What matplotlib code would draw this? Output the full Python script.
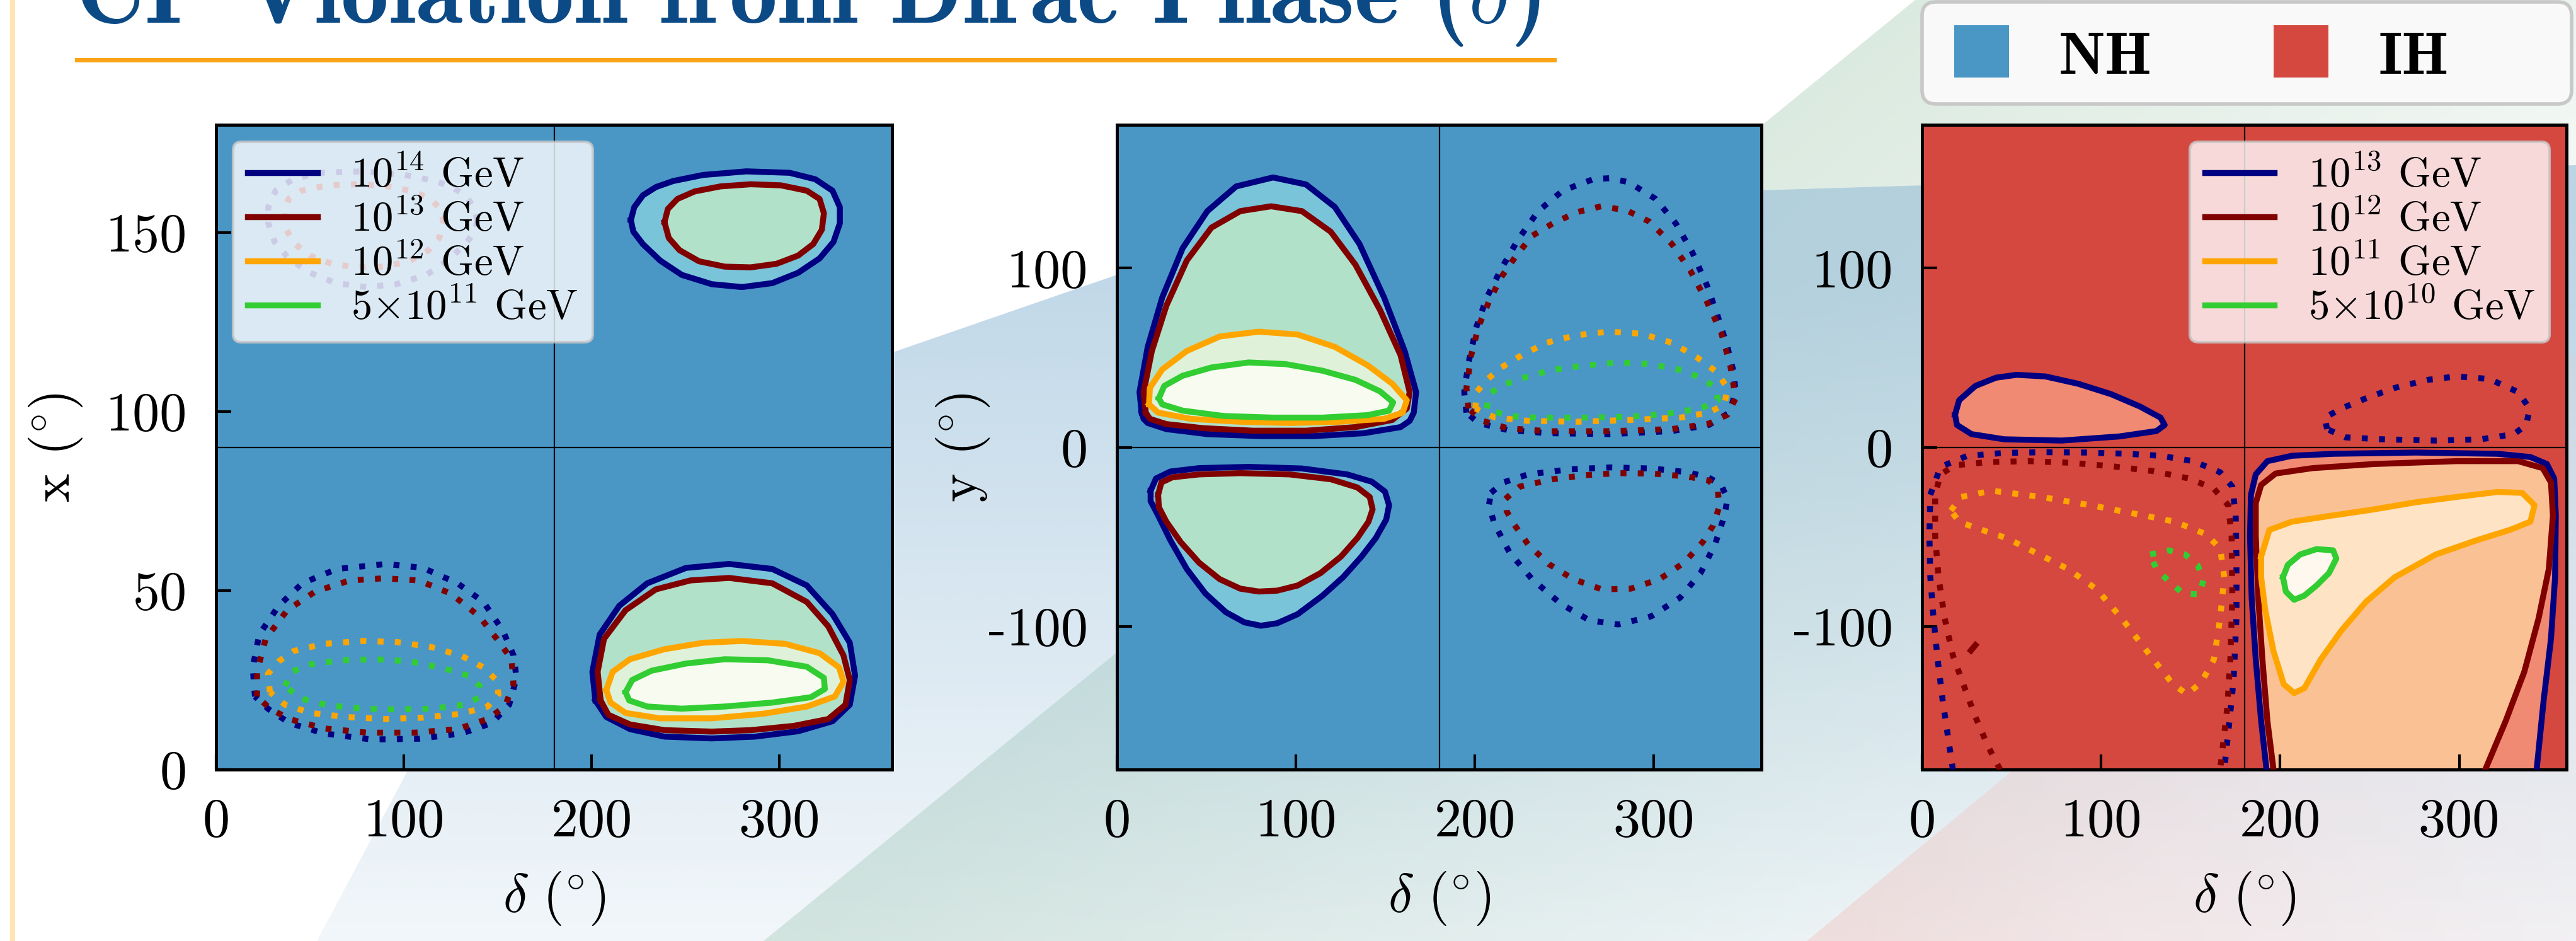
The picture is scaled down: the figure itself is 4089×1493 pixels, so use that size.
import numpy as np
import matplotlib
matplotlib.use('Agg')
import matplotlib.pyplot as plt
import matplotlib.colors as mcolors
from matplotlib.patches import Polygon, Rectangle, FancyBboxPatch
from matplotlib.lines import Line2D

W, H = 4089, 1493
plt.rcParams['mathtext.fontset'] = 'cm'
plt.rcParams['font.family'] = 'serif'
plt.rcParams['font.serif'] = ['cmr10']
plt.rcParams['axes.formatter.use_mathtext'] = True

# ---- data: (delta, angle) contour vertices ----
# panel 1 : x vs delta (NH)
p1_navy_lr = [(202.0,19.3),(200.4,27.3),(204.3,37.7),(214.7,45.7),(229.6,52.0),(250.3,56.3),(273.2,57.4),(296.2,56.0),(314.6,51.4),(328.3,43.4),(337.5,35.4),(340.3,26.2),(337.5,18.1),(328.3,13.5),(310.0,10.7),(287.0,9.2),(264.0,8.7),(238.8,9.2),(220.4,11.3),(207.8,14.7)]
p1_maroon_lr = [(204.8,19.3),(203.2,27.3),(206.6,36.5),(218.1,44.5),(234.2,50.3),(252.6,52.8),(273.2,53.5),(296.2,52.0),(314.6,46.8),(326.0,40.0),(334.1,31.9),(337.5,25.0),(335.2,18.1),(326.0,14.1),(307.7,12.2),(284.7,11.0),(264.0,10.6),(238.8,11.0),(220.4,12.6),(208.9,15.3)]
p1_orange_lr = [(207.8,22.2),(211.2,27.3),(220.4,30.8),(238.8,33.6),(259.4,35.4),(280.1,35.9),(303.1,35.1),(321.4,32.5),(331.8,28.5),(334.1,24.5),(329.5,20.4),(314.6,17.6),(291.6,15.6),(264.0,14.3),(236.5,14.3),(218.1,15.8),(210.1,18.7)]
p1_green_lr = [(218.1,21.6),(221.6,25.0),(231.9,27.6),(250.3,29.6),(270.9,30.8),(293.9,30.5),(314.6,28.7),(323.7,25.6),(324.2,22.5),(316.8,20.2),(296.2,18.7),(270.9,17.6),(248.0,17.0),(229.6,17.6),(220.0,19.3)]
p1_navy_ur = [(220.9,153.4),(222.7,157.0),(227.3,160.3),(234.2,162.6),(243.4,164.3),(259.4,166.0),(282.4,167.0),(305.4,166.6),(319.1,164.8),(328.3,161.6),(332.2,157.0),(332.2,152.5),(328.8,147.3),(321.4,142.7),(310.0,138.7),(296.2,135.8),(280.1,134.7),(264.0,135.5),(248.0,138.1),(236.5,142.1),(227.3,146.7),(222.2,150.2)]
p1_maroon_ur = [(238.8,152.8),(240.6,156.5),(245.7,159.3),(254.9,161.4),(268.6,162.8),(284.7,163.4),(300.8,163.1),(314.6,161.6),(321.4,159.3),(323.7,155.3),(322.6,150.7),(318.0,146.7),(310.0,143.5),(298.5,141.2),(284.7,140.2),(270.9,140.4),(257.2,141.9),(246.8,145.0),(241.1,148.4)]
p1_navy_ll = [(20.7,20.4),(19.5,28.5),(23.0,37.7),(33.3,45.7),(45.9,52.0),(64.3,56.0),(90.7,57.4),(110.2,56.3),(128.6,52.0),(142.4,46.8),(152.7,38.8),(158.4,31.9),(160.0,25.6),(156.1,18.1),(146.9,13.0),(130.9,10.1),(107.9,8.6),(82.7,8.4),(57.4,10.1),(39.0,13.0),(27.6,17.0)]
p1_maroon_ll = [(21.8,20.4),(21.8,27.3),(26.4,36.5),(37.9,44.5),(52.8,49.7),(71.2,52.8),(89.5,53.4),(107.9,52.8),(125.1,49.1),(140.1,42.8),(150.4,35.9),(157.3,30.8),(158.4,23.9),(153.8,17.6),(144.6,14.1),(128.6,11.3),(105.6,10.3),(80.4,10.3),(57.4,11.5),(39.0,14.1),(28.7,17.0)]
p1_orange_ll = [(28.7,21.6),(27.6,26.7),(33.3,30.2),(41.3,33.1),(57.4,35.1),(78.1,35.9),(96.4,35.6),(114.8,34.2),(130.9,31.7),(142.4,28.5),(149.2,25.0),(150.4,21.0),(144.6,17.6),(130.9,15.6),(110.2,14.5),(89.5,14.1),(68.9,14.7),(50.5,15.8),(36.7,18.1)]
p1_green_ll = [(36.7,23.3),(40.2,27.3),(50.5,29.4),(66.6,30.5),(85.0,30.8),(103.3,30.2),(121.7,28.2),(134.3,26.2),(140.5,23.3),(140.5,20.2),(132.0,18.1),(114.8,17.0),(96.4,16.8),(78.1,17.0),(59.7,17.9),(44.8,19.9)]
p1_navy_ul = [(139.1,153.4),(137.3,157.0),(132.7,160.3),(125.8,162.6),(116.6,164.3),(100.6,166.0),(77.6,167.0),(54.6,166.6),(40.9,164.8),(31.7,161.6),(27.8,157.0),(27.8,152.5),(31.2,147.3),(38.6,142.7),(50.0,138.7),(63.8,135.8),(79.9,134.7),(96.0,135.5),(112.0,138.1),(123.5,142.1),(132.7,146.7),(137.8,150.2)]
p1_maroon_ul = [(121.2,152.8),(119.4,156.5),(114.3,159.3),(105.1,161.4),(91.4,162.8),(75.3,163.4),(59.2,163.1),(45.4,161.6),(38.6,159.3),(36.3,155.3),(37.4,150.7),(42.0,146.7),(50.0,143.5),(61.5,141.2),(75.3,140.2),(89.1,140.4),(102.8,141.9),(113.2,145.0),(118.9,148.4)]

# panel 2 : y vs delta (NH)
p2_navy_ul = [(13.8,19.3),(12.6,30.8),(17.2,56.0),(25.3,83.6),(36.7,111.1),(50.5,131.8),(66.6,145.6),(87.2,150.6),(105.6,146.7),(121.7,134.1),(135.5,113.4),(149.2,83.6),(160.7,53.7),(167.1,30.8),(165.8,19.3),(163.5,14.7),(158.4,11.2),(137.8,7.8),(110.2,6.2),(80.4,6.2),(50.5,7.3),(27.6,10.1),(17.2,13.5),(14.9,15.8)]
p2_maroon_ul = [(16.1,19.3),(14.9,30.8),(19.5,53.7),(27.6,79.0),(39.0,104.2),(52.8,122.6),(68.9,131.8),(86.1,134.5),(103.3,131.8),(119.4,120.3),(133.2,101.9),(146.9,76.7),(158.4,51.4),(163.5,30.8),(161.9,21.6),(153.8,15.2),(133.2,11.2),(105.6,9.2),(75.8,9.2),(48.2,10.6),(27.6,12.9),(18.4,15.8)]
p2_orange_ul = [(17.9,23.9),(18.4,33.1),(25.3,43.4),(39.0,53.7),(57.4,61.8),(79.2,64.5),(101.0,62.9),(121.7,56.0),(140.1,45.7),(153.8,35.4),(161.9,26.2),(159.6,19.3),(149.2,15.8),(124.0,14.2),(96.4,13.5),(68.9,14.2),(41.3,15.8),(23.0,19.3)]
p2_green_ul = [(23.4,27.3),(26.4,34.2),(36.7,39.9),(52.8,44.5),(73.5,47.3),(94.1,46.4),(114.8,42.7),(133.2,37.6),(146.9,31.2),(154.3,25.0),(152.0,20.4),(140.1,17.9),(114.8,16.5),(87.2,16.5),(59.7,17.4),(36.7,20.4),(25.3,23.9)]
p2_navy_ll = [(18.8,-24.3),(21.8,-17.5),(29.8,-13.6),(45.9,-11.7),(73.5,-11.0),(103.3,-11.9),(128.6,-15.2),(142.4,-19.3),(149.7,-24.8),(152.0,-32.4),(150.4,-40.4),(144.6,-50.7),(136.6,-61.1),(126.3,-72.6),(114.8,-82.9),(101.0,-93.2),(89.5,-98.3),(80.4,-99.7),(71.2,-97.8),(60.8,-92.1),(49.4,-81.7),(39.0,-68.0),(29.8,-51.9),(23.0,-38.1),(18.8,-30.1)]
p2_maroon_ll = [(23.0,-26.6),(24.8,-19.7),(31.0,-16.8),(45.9,-15.2),(68.9,-14.5),(96.4,-15.2),(119.4,-17.9),(134.3,-22.5),(141.2,-27.8),(142.8,-34.7),(140.5,-41.6),(134.3,-50.7),(125.1,-61.1),(113.7,-70.3),(101.0,-77.2),(89.5,-80.1),(79.2,-80.6),(68.9,-79.0),(57.4,-73.7),(45.9,-64.5),(35.6,-53.0),(27.6,-41.6),(23.4,-33.5)]
p2_navy_ur = [(195.2,19.3),(194.0,30.8),(196.3,46.8),(200.9,67.5),(206.6,83.6),(214.7,99.6),(223.9,115.7),(235.3,131.8),(249.1,143.3),(266.3,149.7),(275.5,150.2),(285.9,147.9),(300.8,138.7),(312.2,124.9),(321.4,108.8),(329.5,90.5),(335.2,74.4),(341.0,56.0),(344.4,42.2),(345.6,30.8),(342.1,19.3),(330.6,12.4),(310.0,9.0),(275.5,7.3),(241.1,7.8),(218.1,9.6),(202.0,13.5)]
p2_maroon_ur = [(196.3,21.6),(195.2,33.1),(197.9,51.4),(202.0,67.5),(207.8,81.3),(214.7,95.0),(222.7,106.5),(231.9,118.0),(243.4,124.9),(257.2,131.3),(270.5,134.5),(284.7,132.2),(297.3,126.0),(310.0,113.4),(320.3,98.5),(329.5,81.3),(337.5,64.1),(342.6,45.7),(345.6,27.3),(341.0,18.1),(330.6,13.1),(310.0,10.1),(275.5,8.9),(241.1,8.9),(218.1,10.6),(204.3,14.7)]
p2_orange_ur = [(200.2,21.6),(200.9,30.8),(206.6,37.6),(214.7,44.5),(226.2,51.4),(239.9,58.3),(256.0,62.4),(274.4,64.5),(292.7,63.4),(310.0,58.3),(323.7,50.3),(334.8,42.2),(341.0,33.1),(339.4,23.9),(330.6,19.3),(314.6,16.5),(287.0,15.2),(257.2,14.2),(229.6,14.7),(211.2,16.5)]
p2_green_ur = [(206.6,21.6),(207.8,29.6),(215.8,34.9),(229.6,39.5),(243.4,43.2),(261.7,45.7),(280.1,47.3),(298.5,46.4),(316.8,42.7),(328.3,37.6),(334.1,33.1),(335.7,26.2),(326.0,21.6),(307.7,18.8),(287.0,17.0),(261.7,16.5),(234.2,16.5),(218.1,17.4)]
p2_navy_lr = [(208.9,-25.5),(215.8,-19.7),(229.6,-15.2),(252.6,-12.4),(275.5,-11.3),(298.5,-11.9),(319.1,-14.0),(330.6,-17.0),(337.5,-20.9),(341.0,-28.9),(339.4,-38.1),(334.1,-54.2),(326.0,-70.3),(314.6,-84.0),(298.5,-94.4),(280.1,-99.0),(264.0,-96.7),(248.0,-87.5),(231.9,-73.7),(219.3,-58.8),(210.8,-42.7),(207.8,-32.4)]
p2_maroon_lr = [(217.0,-28.9),(225.0,-22.0),(243.4,-17.9),(261.7,-15.6),(280.1,-14.5),(298.5,-14.7),(318.0,-16.3),(330.6,-18.6),(335.7,-24.3),(336.4,-33.5),(332.9,-43.9),(327.2,-53.0),(316.8,-64.5),(303.1,-73.7),(287.0,-79.0),(270.9,-79.4),(254.9,-73.7),(241.1,-65.2),(229.6,-54.2),(221.6,-42.7),(217.7,-35.8)]

# panel 3 : y vs delta (IH)
p3_navy_ul = [(18.4,18.1),(20.7,26.2),(29.8,34.2),(41.3,38.8),(52.8,40.4),(68.9,39.5),(87.2,35.4),(105.6,29.6),(121.7,22.7),(133.2,16.5),(135.5,12.4),(130.9,9.0),(110.2,6.0),(78.1,3.7),(45.9,4.4),(27.6,7.3),(19.5,12.4)]
p3_navy_ur = [(226.2,10.1),(225.0,16.5),(234.2,21.6),(248.0,27.3),(264.0,33.1),(282.4,37.6),(298.5,39.5),(316.8,38.1),(332.9,30.8),(339.4,21.6),(337.5,12.4),(330.6,7.3),(312.2,4.4),(287.0,3.7),(257.2,4.4),(236.5,5.5)]
p3_navy_ll = [(17.2,-180),(14.2,-159.8),(11.5,-141.4),(8.7,-118.5),(6.4,-95.5),(4.6,-72.6),(4.1,-49.6),(4.6,-26.6),(10.3,-11.0),(25.3,-4.8),(45.9,-3.2),(68.9,-2.8),(91.8,-3.0),(114.8,-3.7),(133.2,-4.8),(151.5,-7.8),(166.5,-14.0),(173.3,-22.0),(175.2,-38.1),(175.6,-61.1),(175.6,-95.5),(174.0,-130.0),(171.7,-152.9),(168.8,-180)]
p3_maroon_ll = [(43.6,-180),(36.7,-166.7),(29.8,-150.6),(23.0,-132.3),(17.2,-116.2),(12.6,-95.5),(9.2,-72.6),(7.3,-49.6),(7.3,-26.6),(10.3,-15.2),(18.4,-10.1),(36.7,-8.3),(59.7,-7.8),(82.7,-8.7),(105.6,-10.6),(128.6,-13.3),(149.2,-17.5),(163.0,-23.2),(171.0,-32.4),(172.9,-49.6),(173.3,-84.0),(172.2,-118.5),(170.4,-146.0),(166.5,-180)]
p3_maroon_speck = [(27.3,-113.5),(29.8,-110.5)]
p3_orange_ll = [(16.1,-35.4),(21.8,-27.8),(39.0,-24.3),(66.6,-27.8),(94.1,-32.4),(121.7,-37.7),(141.2,-41.6),(158.4,-48.5),(166.5,-56.5),(168.8,-72.6),(166.5,-95.5),(163.0,-118.5),(156.1,-131.1),(148.1,-138.0),(140.1,-132.3),(127.4,-116.2),(111.4,-95.5),(97.6,-79.4),(81.5,-68.0),(65.4,-59.9),(47.1,-50.7),(29.8,-45.0),(20.7,-41.6)]
p3_green_ll = [(127.4,-59.9),(137.8,-57.6),(146.9,-59.9),(153.8,-65.7),(157.3,-73.7),(155.0,-82.2),(145.8,-81.7),(137.8,-74.9),(130.9,-68.0)]
p3_navy_lr = [(192.4,-180),(189.4,-152.9),(186.4,-118.5),(184.1,-84.0),(183.2,-49.6),(183.7,-26.6),(186.4,-15.2),(192.9,-7.8),(206.6,-4.8),(229.6,-3.7),(275.5,-3.0),(321.4,-3.7),(339.8,-5.5),(349.0,-9.4),(353.1,-17.5),(354.0,-38.1),(353.6,-72.6),(351.3,-107.0),(347.2,-141.4),(343.3,-180)]
p3_maroon_lr = [(196.3,-180),(192.9,-152.9),(190.1,-118.5),(187.8,-84.0),(186.4,-49.6),(186.4,-31.2),(189.4,-21.1),(197.5,-14.7),(218.1,-11.7),(252.6,-9.4),(298.5,-7.8),(332.9,-7.8),(346.7,-11.7),(351.3,-19.7),(352.4,-38.1),(350.1,-68.0),(344.4,-95.5),(336.4,-125.4),(326.0,-152.9),(314.6,-180)]
p3_orange_lr = [(189.4,-61.1),(194.0,-46.2),(206.6,-41.6),(229.6,-38.1),(252.6,-34.7),(275.5,-30.8),(298.5,-27.8),(321.4,-25.0),(335.2,-25.5),(342.1,-32.4),(339.8,-41.6),(328.3,-46.2),(310.0,-51.9),(287.0,-59.9),(264.0,-72.6),(248.0,-86.3),(234.2,-102.4),(222.7,-118.5),(213.5,-134.6),(207.8,-137.3),(202.0,-132.3),(196.3,-113.9),(191.7,-91.0),(189.4,-72.6)]
p3_green_lr = [(201.6,-72.6),(204.3,-65.7),(211.2,-59.9),(220.4,-56.9),(229.6,-57.6),(231.4,-62.2),(227.3,-70.3),(220.4,-77.2),(213.5,-82.9),(207.8,-85.2),(203.2,-80.6)]

x_ticks = [0, 100, 200, 300]
p1_yticks = [0, 50, 100, 150]
p23_yticks = [-100, 0, 100]
nh_labels = [r'$10^{14}$ GeV', r'$10^{13}$ GeV', r'$10^{12}$ GeV', r'$5{\times}10^{11}$ GeV']
ih_labels = [r'$10^{13}$ GeV', r'$10^{12}$ GeV', r'$10^{11}$ GeV', r'$5{\times}10^{10}$ GeV']
hier_labels = ['NH', 'IH']
title_text = r'CP Violation from Dirac Phase ($\delta$)'

# ---- styles ----
NAVY, MAROON, ORANGE, GREEN = '#000080', '#800000', '#ffa500', '#32cd32'
NH_BG, IH_BG = '#4a97c6', '#d4483f'
NH_FILL = ['#79c4d9', '#b2e1c9', '#dff2d9', '#f7fbf0']
IH_FILL = ['#f18a72', '#fac195', '#fee4c5', '#fff8ef']
LW = 6.8
DOT = (0, (1, 1.9))
FS = 62

fig = plt.figure(figsize=(W / 100, H / 100), dpi=100)

# slide background (pixel coordinates, y down)
bg = fig.add_axes([0, 0, 1, 1], zorder=-1)
bg.axis('off')


def ribbon(verts, color, p0, p1, a0, a1):
    poly = Polygon(verts, closed=True, fc='none', ec='none')
    bg.add_patch(poly)
    gx, gy = np.meshgrid(np.linspace(0, W, 300), np.linspace(0, H, 150))
    dx, dy = p1[0] - p0[0], p1[1] - p0[1]
    t = np.clip(((gx - p0[0]) * dx + (gy - p0[1]) * dy) / (dx * dx + dy * dy), 0, 1)
    img = np.zeros(gx.shape + (4,))
    img[..., :3] = mcolors.to_rgb(color)
    img[..., 3] = a0 + (a1 - a0) * t
    im = bg.imshow(img, extent=[0, W, H, 0], aspect='auto', interpolation='bilinear')
    im.set_clip_path(poly)


ribbon([(1212, H), (3040, 0), (W, 0), (W, H)], '#cfe3d6', (1212, H), (2035, 2500), 0.75, 0.0)
ribbon([(503, H), (647, 1223), (1000, 820), (1417, 559), (1773, 436), (2796, 302), (W, 262), (W, H)],
       '#8fb9d6', (0, 450), (0, H), 0.55, 0.12)
ribbon([(2868, H), (3194, 1223), (3600, 880), (W, 560), (W, H)], '#f2c4c1', (2900, 0), (W, 0), 0.45, 0.12)
bg.add_patch(Rectangle((16, 0), 8, H, color='#ffe4b5', lw=0))

# NH / IH key box
bg.add_patch(FancyBboxPatch((3051 + 22, 3 + 22), 1031 - 44, 162 - 44, boxstyle='round,pad=22',
                            fc='#f9f9f9', ec='#c8c8c8', lw=4))
for x0, c, lab in zip((3102, 3609), (NH_BG, IH_BG), hier_labels):
    bg.add_patch(Rectangle((x0, 40), 87, 83, color=c, lw=0))
    bg.text(x0 + 166, 117, lab, fontfamily='cmb10', fontsize=68, va='baseline', ha='left')
bg.set_xlim(0, W)
bg.set_ylim(H, 0)


def curve(ax, pts, color, ls='-', fill=None, closed=True):
    d, v = np.array(pts).T
    if fill is not None:
        ax.fill(d, v, color=fill, lw=0, zorder=1)
    if closed:
        d = np.append(d, d[0])
        v = np.append(v, v[0])
    ax.plot(d, v, color=color, lw=LW, ls=ls, zorder=3,
            solid_joinstyle='round', dash_capstyle='butt')


def setup(ax, ylim, yticks, hline, facecolor, ylabel=None):
    ax.set_facecolor(facecolor)
    ax.set_xlim(0, 360)
    ax.set_ylim(*ylim)
    ax.set_xticks(x_ticks, labels=[str(v) for v in x_ticks])
    ax.set_yticks(yticks, labels=[str(v) for v in yticks])
    ax.axvline(180, color='k', lw=1.6, zorder=2)
    ax.axhline(hline, color='k', lw=1.6, zorder=2)
    ax.tick_params(direction='in', length=17, width=3, pad=33, labelsize=FS)
    for s in ax.spines.values():
        s.set_linewidth(3.6)
    ax.set_xlabel(r'$\delta\ (^{\circ})$', fontsize=FS)
    ax.xaxis.set_label_coords(0.5, -0.155)
    if ylabel:
        ax.set_ylabel(ylabel, fontsize=FS)
        ax.yaxis.set_label_coords(-0.195, 0.5)


def line_legend(ax, labels, loc):
    handles = [Line2D([], [], color=c, lw=LW) for c in (NAVY, MAROON, ORANGE, GREEN)]
    leg = ax.legend(handles, labels, loc=loc, fontsize=48, handlelength=1.66, handletextpad=0.8,
                    labelspacing=0.12, borderpad=0.35, borderaxespad=0.4, framealpha=0.8,
                    fancybox=True, edgecolor='#c8c8c8')
    leg.get_frame().set_linewidth(3)


ax1 = fig.add_axes([343 / W, (H - 1221) / H, 1073 / W, 1023 / H])
ax2 = fig.add_axes([1773 / W, (H - 1221) / H, 1023 / W, 1023 / H])
ax3 = fig.add_axes([3051 / W, (H - 1221) / H, 1023 / W, 1023 / H])

# panel 1
setup(ax1, (0, 180), p1_yticks, 90, NH_BG, r'x $(^{\circ})$')
curve(ax1, p1_navy_lr, NAVY, fill=NH_FILL[0])
curve(ax1, p1_maroon_lr, MAROON, fill=NH_FILL[1])
curve(ax1, p1_orange_lr, ORANGE, fill=NH_FILL[2])
curve(ax1, p1_green_lr, GREEN, fill=NH_FILL[3])
curve(ax1, p1_navy_ur, NAVY, fill=NH_FILL[0])
curve(ax1, p1_maroon_ur, MAROON, fill=NH_FILL[1])
for pts, c in [(p1_navy_ll, NAVY), (p1_maroon_ll, MAROON), (p1_orange_ll, ORANGE), (p1_green_ll, GREEN),
               (p1_navy_ul, NAVY), (p1_maroon_ul, MAROON)]:
    curve(ax1, pts, c, ls=DOT)
line_legend(ax1, nh_labels, 'upper left')

# panel 2
setup(ax2, (-180, 180), p23_yticks, 0, NH_BG, r'y $(^{\circ})$')
curve(ax2, p2_navy_ul, NAVY, fill=NH_FILL[0])
curve(ax2, p2_maroon_ul, MAROON, fill=NH_FILL[1])
curve(ax2, p2_orange_ul, ORANGE, fill=NH_FILL[2])
curve(ax2, p2_green_ul, GREEN, fill=NH_FILL[3])
curve(ax2, p2_navy_ll, NAVY, fill=NH_FILL[0])
curve(ax2, p2_maroon_ll, MAROON, fill=NH_FILL[1])
for pts, c in [(p2_navy_ur, NAVY), (p2_maroon_ur, MAROON), (p2_orange_ur, ORANGE), (p2_green_ur, GREEN),
               (p2_navy_lr, NAVY), (p2_maroon_lr, MAROON)]:
    curve(ax2, pts, c, ls=DOT)

# panel 3
setup(ax3, (-180, 180), p23_yticks, 0, IH_BG)
curve(ax3, p3_navy_ul, NAVY, fill=IH_FILL[0])
curve(ax3, p3_navy_lr, NAVY, fill=IH_FILL[0], closed=False)
curve(ax3, p3_maroon_lr, MAROON, fill=IH_FILL[1], closed=False)
curve(ax3, p3_orange_lr, ORANGE, fill=IH_FILL[2])
curve(ax3, p3_green_lr, GREEN, fill=IH_FILL[3])
curve(ax3, p3_navy_ur, NAVY, ls=DOT)
curve(ax3, p3_navy_ll, NAVY, ls=DOT, closed=False)
curve(ax3, p3_maroon_ll, MAROON, ls=DOT, closed=False)
curve(ax3, p3_maroon_speck, MAROON, closed=False)
curve(ax3, p3_orange_ll, ORANGE, ls=DOT)
curve(ax3, p3_green_ll, GREEN, ls=DOT)
line_legend(ax3, ih_labels, 'upper right')

# title (cut off at the top of the slide) and its underline
title = fig.text(119 / W, 1 - 36 / H, title_text, fontfamily='cmb10', color='#0c4a86',
                 fontsize=90, ha='left', va='baseline')
fig.canvas.draw()
tw = title.get_window_extent(fig.canvas.get_renderer()).width
title.set_fontsize(90 * 2327 / tw)
fig.add_artist(Rectangle((119 / W, 1 - 99 / H), (2471 - 119) / W, 7 / H,
                         transform=fig.transFigure, color='#fba418', lw=0))

fig.savefig('out.png', dpi=100)
